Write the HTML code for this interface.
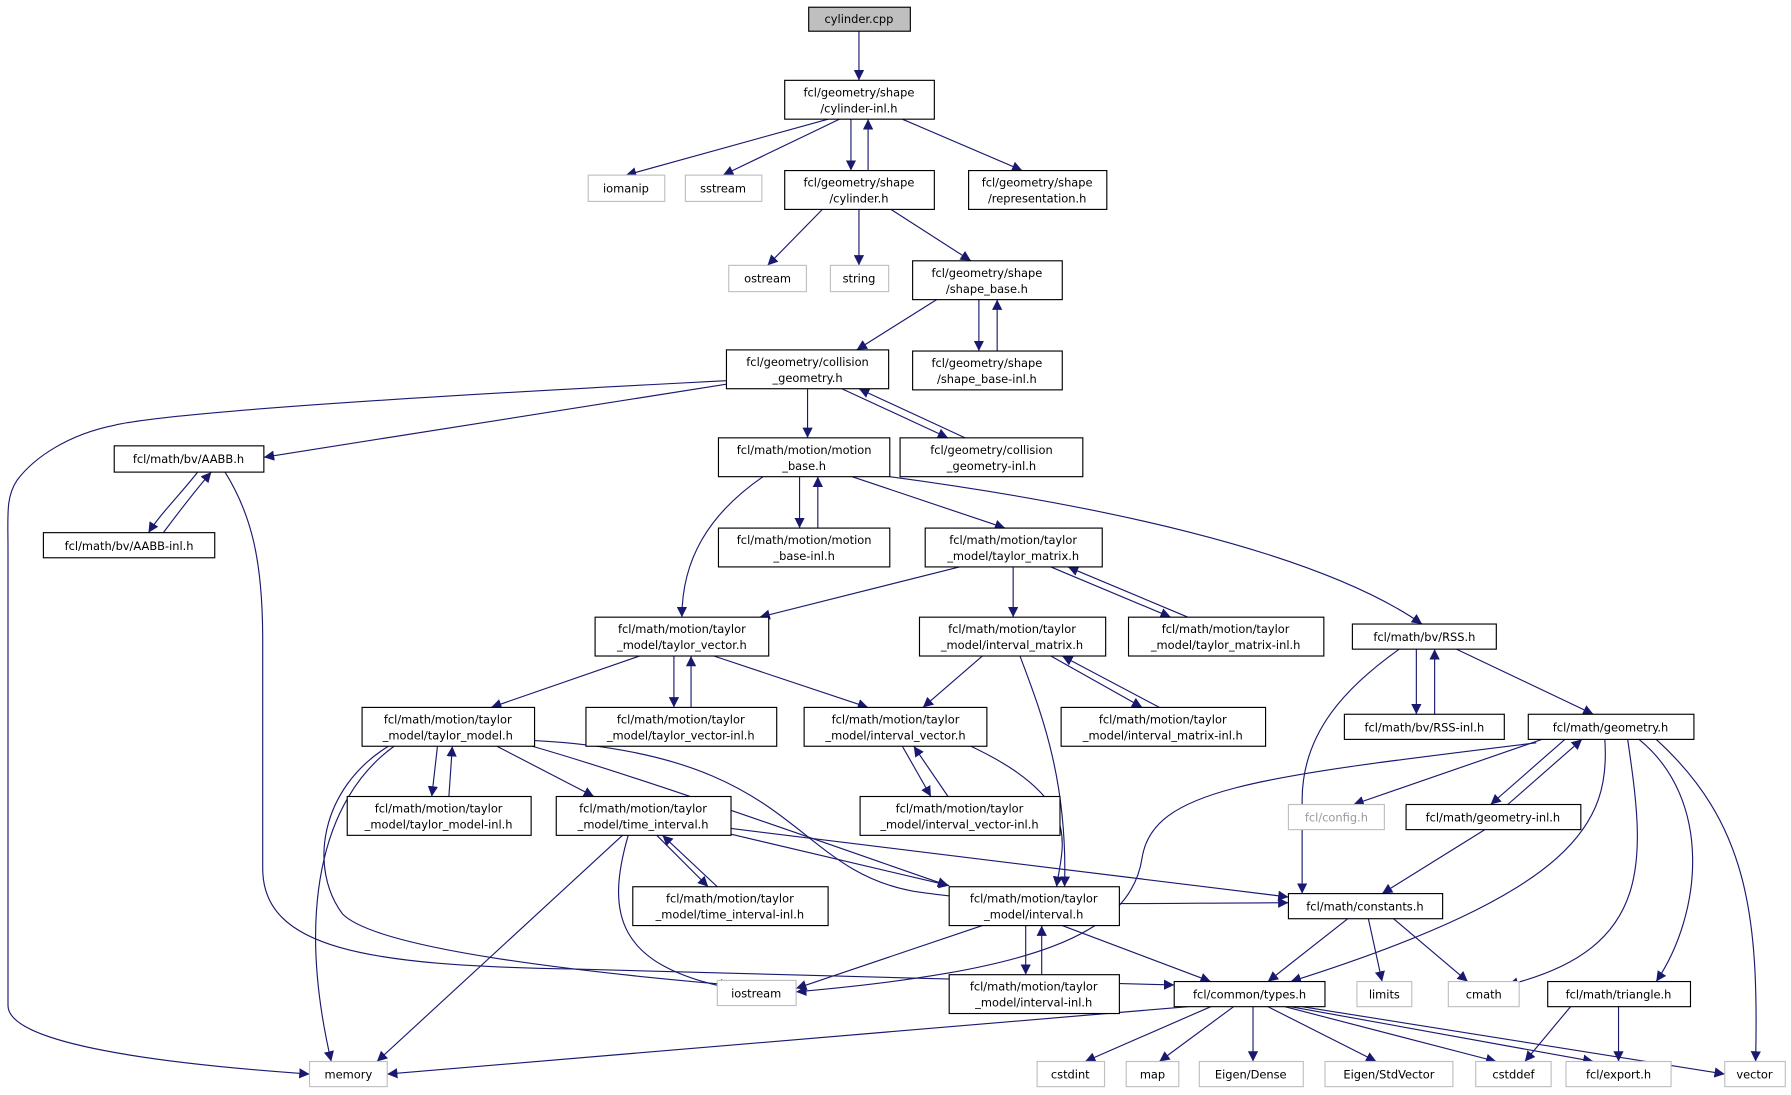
<!DOCTYPE html>
<html><head><meta charset="utf-8"><style>
html,body{margin:0;padding:0;background:#fff;}
svg{display:block;}
text{font-family:"DejaVu Sans","Liberation Sans",sans-serif;font-size:10px;fill:#000;text-anchor:middle;}
.n{fill:#fff;stroke:#000;stroke-width:1;}
.g{fill:#fff;stroke:#bfbfbf;stroke-width:1;}
.g2+text{fill:#000}
.e{fill:none;stroke:#191970;stroke-width:1;marker-end:url(#a);}
</style></head><body>
<svg width="1791" height="1095" viewBox="0 0 1568 958" xmlns="http://www.w3.org/2000/svg">
<defs><marker id="a" viewBox="0 0 10 10" refX="10" refY="5" markerWidth="9" markerHeight="9" markerUnits="userSpaceOnUse" orient="auto"><path d="M0,0 L10,5 L0,10 z" fill="#191970"/></marker></defs>
<g>
<path class="e" d="M752,27 L752,70"/>
<path class="e" d="M725,104 L548,153"/>
<path class="e" d="M735,104 L633,153"/>
<path class="e" d="M745,104 L745,149"/>
<path class="e" d="M760,149 L760,104"/>
<path class="e" d="M790,104 L895,149"/>
<path class="e" d="M720,183 L672,232"/>
<path class="e" d="M752,183 L752,232"/>
<path class="e" d="M780,183 L850,228"/>
<path class="e" d="M820,262 L750,306"/>
<path class="e" d="M857,262 L857,307"/>
<path class="e" d="M873,307 L873,262"/>
<path class="e" d="M636,333 C400,345 150,360 100,372 C60,380 30,400 15,420 C5,435 7,450 7,480 L7,880 C7,920 200,935 271,940"/>
<path class="e" d="M636,336 L231,400"/>
<path class="e" d="M707,340 L707,383"/>
<path class="e" d="M737,340 L830,383"/>
<path class="e" d="M845,383 L752,340"/>
<path class="e" d="M173,413 C160,430 140,450 130,466"/>
<path class="e" d="M143,466 C155,450 170,430 185,413"/>
<path class="e" d="M197,413 C220,450 230,490 230,560 L230,760 C230,830 320,845 500,848 L1028,862"/>
<path class="e" d="M668,417 C620,450 597,490 597,540"/>
<path class="e" d="M700,417 L700,462"/>
<path class="e" d="M716,462 L716,417"/>
<path class="e" d="M746,417 L880,462"/>
<path class="e" d="M779,417 C950,440 1150,480 1245,546"/>
<path class="e" d="M840,496 L665,540"/>
<path class="e" d="M887,496 L887,540"/>
<path class="e" d="M920,496 L1025,540"/>
<path class="e" d="M1040,540 L935,496"/>
<path class="e" d="M560,574 L430,619"/>
<path class="e" d="M590,574 L590,619"/>
<path class="e" d="M605,619 L605,574"/>
<path class="e" d="M625,574 L760,619"/>
<path class="e" d="M860,574 L808,619"/>
<path class="e" d="M893,574 C910,620 935,680 932,776"/>
<path class="e" d="M920,574 L1000,619"/>
<path class="e" d="M1015,619 L930,574"/>
<path class="e" d="M1225,568 C1180,600 1140,640 1140,700 L1140,782"/>
<path class="e" d="M1240,568 L1240,625"/>
<path class="e" d="M1256,625 L1256,568"/>
<path class="e" d="M1275,568 L1395,625"/>
<path class="e" d="M345,653 C280,700 260,800 290,929"/>
<path class="e" d="M340,653 C280,690 270,760 300,800 C330,830 500,850 640,862"/>
<path class="e" d="M383,653 L378,697"/>
<path class="e" d="M393,697 L396,653"/>
<path class="e" d="M435,653 L520,697"/>
<path class="e" d="M466,653 C560,680 700,730 830,775"/>
<path class="e" d="M468,648 C700,660 690,760 800,780 C900,795 1000,790 1128,790"/>
<path class="e" d="M545,731 L330,929"/>
<path class="e" d="M550,731 C530,800 540,845 640,865"/>
<path class="e" d="M575,731 L620,776"/>
<path class="e" d="M628,776 L580,731"/>
<path class="e" d="M640,730 L831,775"/>
<path class="e" d="M640,725 L1128,785"/>
<path class="e" d="M850,653 C950,700 930,740 925,776"/>
<path class="e" d="M790,653 L815,697"/>
<path class="e" d="M830,697 L800,653"/>
<path class="e" d="M860,810 L697,865"/>
<path class="e" d="M898,810 L898,853"/>
<path class="e" d="M912,853 L912,810"/>
<path class="e" d="M930,810 L1060,859"/>
<path class="e" d="M1345,650 C1100,680 1010,690 1000,750 C990,820 900,850 697,868"/>
<path class="e" d="M1350,647 L1185,704"/>
<path class="e" d="M1370,647 L1305,704"/>
<path class="e" d="M1320,704 L1385,647"/>
<path class="e" d="M1300,726 L1210,782"/>
<path class="e" d="M1405,647 C1410,720 1380,780 1130,859"/>
<path class="e" d="M1425,647 C1440,750 1450,830 1320,862"/>
<path class="e" d="M1435,647 C1500,700 1490,800 1450,859"/>
<path class="e" d="M1450,647 C1530,720 1540,800 1537,929"/>
<path class="e" d="M1180,804 L1110,859"/>
<path class="e" d="M1198,804 L1210,859"/>
<path class="e" d="M1220,804 L1285,859"/>
<path class="e" d="M1040,881 L339,940"/>
<path class="e" d="M1060,881 L950,929"/>
<path class="e" d="M1080,881 L1015,929"/>
<path class="e" d="M1097,881 L1097,929"/>
<path class="e" d="M1110,881 L1205,929"/>
<path class="e" d="M1125,881 L1310,929"/>
<path class="e" d="M1130,881 L1395,929"/>
<path class="e" d="M1140,881 L1510,940"/>
<path class="e" d="M1375,881 L1335,929"/>
<path class="e" d="M1417,881 L1417,929"/>
</g>
<g>
<rect x="708" y="6" width="89" height="21" fill="#bfbfbf" stroke="#000"/><text x="752" y="20">cylinder.cpp</text>
<rect class="n" x="687" y="70" width="131" height="34"/><text x="752" y="84">fcl/geometry/shape</text><text x="752" y="98">/cylinder-inl.h</text>
<rect class="g" x="515" y="153" width="67" height="23"/><text x="548" y="168">iomanip</text>
<rect class="g" x="600" y="153" width="67" height="23"/><text x="633" y="168">sstream</text>
<rect class="n" x="687" y="149" width="131" height="34"/><text x="752" y="163">fcl/geometry/shape</text><text x="752" y="177">/cylinder.h</text>
<rect class="n" x="848" y="149" width="121" height="34"/><text x="908" y="163">fcl/geometry/shape</text><text x="908" y="177">/representation.h</text>
<rect class="g" x="638" y="232" width="68" height="23"/><text x="672" y="247">ostream</text>
<rect class="g" x="727" y="232" width="51" height="23"/><text x="752" y="247">string</text>
<rect class="n" x="799" y="228" width="131" height="34"/><text x="864" y="242">fcl/geometry/shape</text><text x="864" y="256">/shape_base.h</text>
<rect class="n" x="799" y="307" width="131" height="34"/><text x="864" y="321">fcl/geometry/shape</text><text x="864" y="335">/shape_base-inl.h</text>
<rect class="n" x="636" y="306" width="142" height="34"/><text x="707" y="320">fcl/geometry/collision</text><text x="707" y="334">_geometry.h</text>
<rect class="n" x="100" y="390" width="131" height="23"/><text x="165" y="405">fcl/math/bv/AABB.h</text>
<rect class="n" x="38" y="466" width="150" height="22"/><text x="113" y="481">fcl/math/bv/AABB-inl.h</text>
<rect class="n" x="629" y="383" width="150" height="34"/><text x="704" y="397">fcl/math/motion/motion</text><text x="704" y="411">_base.h</text>
<rect class="n" x="788" y="383" width="160" height="34"/><text x="868" y="397">fcl/geometry/collision</text><text x="868" y="411">_geometry-inl.h</text>
<rect class="n" x="629" y="462" width="150" height="34"/><text x="704" y="476">fcl/math/motion/motion</text><text x="704" y="490">_base-inl.h</text>
<rect class="n" x="810" y="462" width="155" height="34"/><text x="887" y="476">fcl/math/motion/taylor</text><text x="887" y="490">_model/taylor_matrix.h</text>
<rect class="n" x="521" y="540" width="152" height="34"/><text x="597" y="554">fcl/math/motion/taylor</text><text x="597" y="568">_model/taylor_vector.h</text>
<rect class="n" x="805" y="540" width="163" height="34"/><text x="886" y="554">fcl/math/motion/taylor</text><text x="886" y="568">_model/interval_matrix.h</text>
<rect class="n" x="988" y="540" width="171" height="34"/><text x="1073" y="554">fcl/math/motion/taylor</text><text x="1073" y="568">_model/taylor_matrix-inl.h</text>
<rect class="n" x="1184" y="546" width="126" height="22"/><text x="1247" y="561">fcl/math/bv/RSS.h</text>
<rect class="n" x="317" y="619" width="151" height="34"/><text x="392" y="633">fcl/math/motion/taylor</text><text x="392" y="647">_model/taylor_model.h</text>
<rect class="n" x="513" y="619" width="167" height="34"/><text x="596" y="633">fcl/math/motion/taylor</text><text x="596" y="647">_model/taylor_vector-inl.h</text>
<rect class="n" x="704" y="619" width="160" height="34"/><text x="784" y="633">fcl/math/motion/taylor</text><text x="784" y="647">_model/interval_vector.h</text>
<rect class="n" x="929" y="619" width="179" height="34"/><text x="1018" y="633">fcl/math/motion/taylor</text><text x="1018" y="647">_model/interval_matrix-inl.h</text>
<rect class="n" x="1177" y="625" width="140" height="22"/><text x="1247" y="640">fcl/math/bv/RSS-inl.h</text>
<rect class="n" x="1338" y="625" width="145" height="22"/><text x="1410" y="640">fcl/math/geometry.h</text>
<rect class="n" x="304" y="697" width="161" height="34"/><text x="384" y="711">fcl/math/motion/taylor</text><text x="384" y="725">_model/taylor_model-inl.h</text>
<rect class="n" x="487" y="697" width="153" height="34"/><text x="563" y="711">fcl/math/motion/taylor</text><text x="563" y="725">_model/time_interval.h</text>
<rect class="n" x="753" y="697" width="175" height="34"/><text x="840" y="711">fcl/math/motion/taylor</text><text x="840" y="725">_model/interval_vector-inl.h</text>
<rect class="g" x="1128" y="704" width="84" height="22"/><text x="1170" y="719" style="fill:#999">fcl/config.h</text>
<rect class="n" x="1231" y="704" width="153" height="22"/><text x="1307" y="719">fcl/math/geometry-inl.h</text>
<rect class="n" x="554" y="776" width="171" height="34"/><text x="639" y="790">fcl/math/motion/taylor</text><text x="639" y="804">_model/time_interval-inl.h</text>
<rect class="n" x="831" y="776" width="149" height="34"/><text x="905" y="790">fcl/math/motion/taylor</text><text x="905" y="804">_model/interval.h</text>
<rect class="n" x="1128" y="782" width="135" height="22"/><text x="1195" y="797">fcl/math/constants.h</text>
<rect class="g" x="628" y="858" width="69" height="22"/><text x="662" y="873">iostream</text>
<rect class="n" x="831" y="853" width="149" height="34"/><text x="905" y="867">fcl/math/motion/taylor</text><text x="905" y="881">_model/interval-inl.h</text>
<rect class="n" x="1028" y="859" width="132" height="22"/><text x="1094" y="874">fcl/common/types.h</text>
<rect class="g" x="1188" y="859" width="48" height="22"/><text x="1212" y="874">limits</text>
<rect class="g" x="1268" y="859" width="62" height="22"/><text x="1299" y="874">cmath</text>
<rect class="n" x="1355" y="859" width="125" height="22"/><text x="1417" y="874">fcl/math/triangle.h</text>
<rect class="g" x="271" y="929" width="68" height="22"/><text x="305" y="944">memory</text>
<rect class="g" x="908" y="929" width="59" height="22"/><text x="937" y="944">cstdint</text>
<rect class="g" x="986" y="929" width="46" height="22"/><text x="1009" y="944">map</text>
<rect class="g" x="1050" y="929" width="91" height="22"/><text x="1095" y="944">Eigen/Dense</text>
<rect class="g" x="1160" y="929" width="112" height="22"/><text x="1216" y="944">Eigen/StdVector</text>
<rect class="g" x="1292" y="929" width="66" height="22"/><text x="1325" y="944">cstddef</text>
<rect class="g" x="1371" y="929" width="92" height="22"/><text x="1417" y="944">fcl/export.h</text>
<rect class="g" x="1510" y="929" width="53" height="22"/><text x="1536" y="944">vector</text>
</g>
</svg>
</body></html>
